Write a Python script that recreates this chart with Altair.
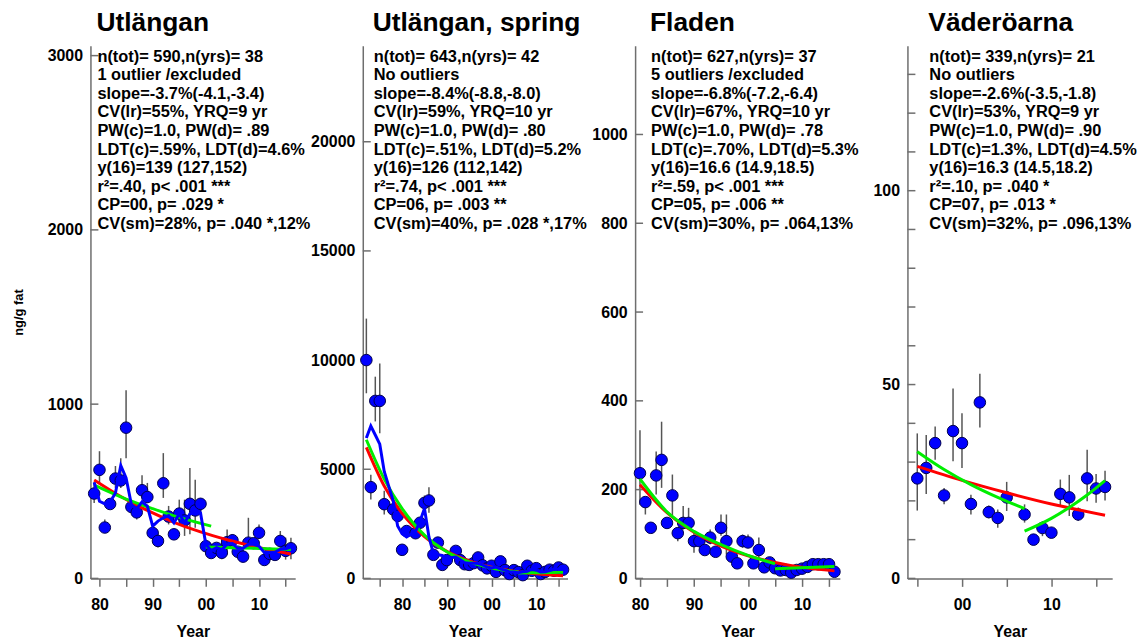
import altair as alt
import pandas as pd

FONT = "Liberation Sans"
AXIS_GREY = "#6e6e6e"

# ---- panel names and statistics text ----
titles = ["Utlängan", "Utlängan, spring", "Fladen", "Väderöarna"]

stats_utl = ["n(tot)= 590,n(yrs)= 38", "1 outlier /excluded", "slope=-3.7%(-4.1,-3.4)",
             "CV(lr)=55%, YRQ=9 yr", "PW(c)=1.0, PW(d)= .89", "LDT(c)=.59%, LDT(d)=4.6%",
             "y(16)=139 (127,152)", "r²=.40, p< .001 ***", "CP=00, p= .029 *",
             "CV(sm)=28%, p= .040 *,12%"]
stats_spr = ["n(tot)= 643,n(yrs)= 42", "No outliers", "slope=-8.4%(-8.8,-8.0)",
             "CV(lr)=59%, YRQ=10 yr", "PW(c)=1.0, PW(d)= .80", "LDT(c)=.51%, LDT(d)=5.2%",
             "y(16)=126 (112,142)", "r²=.74, p< .001 ***", "CP=06, p= .003 **",
             "CV(sm)=40%, p= .028 *,17%"]
stats_fla = ["n(tot)= 627,n(yrs)= 37", "5 outliers /excluded", "slope=-6.8%(-7.2,-6.4)",
             "CV(lr)=67%, YRQ=10 yr", "PW(c)=1.0, PW(d)= .78", "LDT(c)=.70%, LDT(d)=5.3%",
             "y(16)=16.6 (14.9,18.5)", "r²=.59, p< .001 ***", "CP=05, p= .006 **",
             "CV(sm)=30%, p= .064,13%"]
stats_vad = ["n(tot)= 339,n(yrs)= 21", "No outliers", "slope=-2.6%(-3.5,-1.8)",
             "CV(lr)=53%, YRQ=9 yr", "PW(c)=1.0, PW(d)= .90", "LDT(c)=1.3%, LDT(d)=4.5%",
             "y(16)=16.3 (14.5,18.2)", "r²=.10, p= .040 *", "CP=07, p= .013 *",
             "CV(sm)=32%, p= .096,13%"]

# ---- Utlängan (ng/g fat) ----
utl_years = list(range(1979, 2017))
utl_mean = [487, 623, 292, 427, 573, 562, 865, 410, 379, 506, 467, 261, 215, 546, 355, 253,
            372, 333, 428, 390, 428, 185, 146, 175, 147, 208, 219, 153, 125, 205, 202, 262,
            106, 141, 135, 215, 158, 173]
utl_lo = [433, 540, 262, 400, 519, 519, 690, 385, 338, 462, 433, 224, 177, 462, 310, 225,
          329, 244, 253, 291, 388, 139, 125, 150, 110, 139, 185, 125, 105, 190, 180, 234,
          90, 120, 115, 148, 108, 110]
utl_hi = [553, 730, 338, 455, 645, 690, 1080, 440, 416, 592, 548, 302, 253, 719, 416, 285,
          452, 452, 633, 566, 452, 224, 170, 200, 238, 281, 255, 180, 145, 348, 225, 310,
          120, 165, 160, 272, 234, 234]
utl_smooth = [551, 443, 428, 439, 490, 648, 576, 424, 399, 439, 415, 300, 329, 348, 361, 319,
              371, 319, 371, 376, 376, 196, 158, 177, 165, 196, 200, 173, 173, 196, 196, 185,
              148, 148, 150, 167, 170, 180]
utl_reg_years = [1979, 1984, 1989, 1994, 1999, 2004, 2009, 2016]
utl_reg = [565, 470, 390, 322, 267, 222, 184, 140]
utl_cp1_years = [1979, 1985, 1990, 1995, 2001]
utl_cp1 = [535, 455, 400, 350, 300]
utl_cp2_years = [2000, 2005, 2010, 2016]
utl_cp2 = [180, 176, 172, 166]

# ---- Utlängan, spring ----
spr_years = [1972, 1973, 1974, 1975, 1976, 1978, 1979, 1980, 1981, 1983, 1984, 1985, 1986,
             1987, 1988, 1989, 1990, 1992, 1993, 1994, 1995, 1996, 1997, 1998, 1999, 2000,
             2001, 2002, 2003, 2004, 2005, 2006, 2007, 2008, 2009, 2010, 2011, 2012, 2013,
             2014, 2015, 2016]
spr_mean = [10000, 4180, 8130, 8130, 3400, 3160, 2860, 1310, 2170, 2070, 2550, 3460, 3570,
            1080, 1640, 620, 840, 1260, 840, 650, 620, 700, 960, 600, 460, 580, 300, 780,
            380, 200, 380, 290, 150, 580, 350, 470, 200, 300, 400, 350, 500, 400]
spr_lo = [8480, 3615, 7190, 6650, 2930, 2900, 2600, 1150, 1950, 1850, 2300, 3150, 3010,
          950, 1400, 520, 720, 1100, 740, 560, 540, 600, 820, 520, 400, 500, 250, 660,
          320, 160, 320, 240, 120, 490, 290, 400, 160, 250, 340, 290, 420, 340]
spr_hi = [11900, 4750, 9240, 9845, 4010, 3500, 3100, 1450, 2400, 2300, 2800, 3800, 4180,
          1200, 1900, 740, 980, 1450, 950, 750, 720, 820, 1120, 690, 530, 670, 360, 920,
          450, 250, 450, 350, 190, 680, 420, 550, 250, 360, 470, 420, 590, 470]
spr_smooth = [6430, 6980, 6570, 6150, 4900, 3550, 2400, 2050, 1900, 2150, 2620, 3200, 1900,
              1150, 1080, 1050, 920, 980, 850, 720, 700, 700, 680, 620, 520, 480, 520, 440,
              380, 300, 290, 260, 300, 330, 420, 380, 300, 310, 360, 420, 420, 420]
spr_reg_years = [1972, 1976, 1980, 1985, 1990, 1995, 2000, 2005, 2010, 2016]
spr_reg = [6000, 4230, 2980, 1920, 1240, 800, 515, 333, 215, 126]
spr_cp1_years = [1972, 1976, 1980, 1985, 1990, 1995, 2000, 2006]
spr_cp1 = [6350, 4550, 3200, 1980, 1220, 760, 480, 290]
spr_cp2_years = [2006, 2011, 2016]
spr_cp2 = [250, 265, 280]

# ---- Fladen ----
fla_years = list(range(1980, 2017))
fla_mean = [237, 172, 114, 232, 267, 125, 187, 102, 125, 125, 84, 84, 64, 92, 60, 114, 84,
            49, 34, 84, 81, 34, 64, 25, 36, 23, 18, 19, 13, 19, 22, 26, 32, 32, 32, 32, 15]
fla_lo = [166, 144, 105, 189, 204, 115, 137, 84, 110, 114, 58, 75, 57, 77, 54, 96, 54,
          43, 30, 69, 69, 30, 47, 22, 31, 20, 15, 16, 11, 16, 19, 22, 27, 27, 27, 27, 13]
fla_hi = [334, 181, 125, 286, 353, 137, 234, 114, 163, 159, 107, 95, 72, 110, 67, 144, 144,
          56, 39, 99, 99, 39, 92, 29, 42, 27, 21, 22, 15, 22, 26, 30, 38, 38, 38, 38, 17]
fla_reg_years = [1980, 1985, 1990, 1995, 2000, 2005, 2010, 2016]
fla_reg = [211, 148, 104, 73, 51, 36, 25, 17]
fla_cp1_years = [1980, 1985, 1990, 1995, 2000, 2005]
fla_cp1 = [224, 150, 106, 76, 52, 33]
fla_cp2_years = [2005, 2016]
fla_cp2 = [22, 27]

# ---- Väderöarna ----
vad_years = [1995, 1996, 1997, 1998, 1999, 2000, 2001, 2002, 2003, 2004, 2005, 2007, 2008,
             2009, 2010, 2011, 2012, 2013, 2014, 2015, 2016]
vad_mean = [25.8, 28.5, 34.9, 21.4, 38.0, 34.9, 19.2, 45.4, 17.1, 15.6, 20.9, 16.5, 10.0,
            13.0, 11.8, 21.8, 20.9, 16.5, 25.8, 23.2, 23.6]
vad_lo = [17.5, 21.8, 30.6, 19.1, 30.2, 28.5, 16.5, 38.9, 15.5, 13.1, 17.4, 14.4, 9.0,
          10.9, 10.5, 18.6, 16.1, 14.8, 19.9, 19.5, 20.1]
vad_hi = [37.4, 37.0, 39.2, 23.3, 49.0, 42.6, 21.6, 52.8, 18.8, 17.8, 24.9, 19.1, 11.0,
          14.8, 13.2, 25.5, 26.7, 18.3, 33.2, 26.9, 27.8]
vad_reg_years = [1995, 2000, 2005, 2010, 2016]
vad_reg = [28.9, 25.3, 22.1, 19.2, 16.3]
vad_cp1_years = [1995, 1998, 2001, 2004, 2007]
vad_cp1 = [32.7, 28.1, 24.2, 20.9, 18.0]
vad_cp2_years = [2007, 2010, 2012, 2014, 2016]
vad_cp2 = [12.2, 15.5, 18.3, 21.5, 25.2]

# ---- axis extents and ticks ----
x_domains = [[1978.3, 2016.8], [1971.2, 2017.0], [1979.1, 2017.0], [1993.9, 2016.8]]
x_ticks = [list(range(1980, 2016, 5)), list(range(1975, 2016, 5)),
           list(range(1980, 2016, 5)), list(range(1995, 2016, 5))]
y_tops = [3057, 24400, 1200, 137.4]
y_labels = [[0, 1000, 2000, 3000], [0, 5000, 10000, 15000, 20000],
            [0, 200, 400, 600, 800, 1000], [0, 50, 100]]
y_ticks = [[0, 1000, 2000, 3000], [0, 5000, 10000, 15000, 20000],
           [0, 200, 400, 600, 800, 1000], list(range(0, 131, 10))]
text_dx = [7, 11, 16, 22]

panels = [
    dict(years=utl_years, mean=utl_mean, lo=utl_lo, hi=utl_hi, smooth=utl_smooth,
         reg=(utl_reg_years, utl_reg), cp=[(utl_cp1_years, utl_cp1), (utl_cp2_years, utl_cp2)],
         stats=stats_utl),
    dict(years=spr_years, mean=spr_mean, lo=spr_lo, hi=spr_hi, smooth=spr_smooth,
         reg=(spr_reg_years, spr_reg), cp=[(spr_cp1_years, spr_cp1), (spr_cp2_years, spr_cp2)],
         stats=stats_spr),
    dict(years=fla_years, mean=fla_mean, lo=fla_lo, hi=fla_hi, smooth=None,
         reg=(fla_reg_years, fla_reg), cp=[(fla_cp1_years, fla_cp1), (fla_cp2_years, fla_cp2)],
         stats=stats_fla),
    dict(years=vad_years, mean=vad_mean, lo=vad_lo, hi=vad_hi, smooth=None,
         reg=(vad_reg_years, vad_reg), cp=[(vad_cp1_years, vad_cp1), (vad_cp2_years, vad_cp2)],
         stats=stats_vad),
]

year_label = ("datum.value % 10 === 0 ? (datum.value % 100 < 10 ? '0' : '') + "
              "(datum.value % 100) : ''")


def build_panel(i, p):
    xs = alt.Scale(domain=x_domains[i], nice=False, zero=False)
    ys = alt.Scale(domain=[0, y_tops[i]], nice=False)
    x_axis = alt.Axis(values=x_ticks[i], labelExpr=year_label, title="Year",
                      tickSize=8, labelPadding=10, titlePadding=11)
    y_axis = alt.Axis(values=y_labels[i], format="d", ticks=False, labelPadding=8,
                      title="ng/g fat" if i == 0 else None, titleFontSize=13,
                      titlePadding=22)
    X = alt.X("year:Q", scale=xs, axis=x_axis)

    pts = pd.DataFrame({"year": p["years"], "mean": p["mean"], "lo": p["lo"], "hi": p["hi"]})
    err = alt.Chart(pts).mark_rule(color="#555555", strokeWidth=1.5).encode(
        x=X, y=alt.Y("lo:Q", scale=ys, axis=y_axis), y2="hi:Q")
    # inward-pointing tick marks along the value axis
    ticks = alt.Chart(pd.DataFrame({"v": y_ticks[i]})).mark_rule(
        color=AXIS_GREY, strokeWidth=1.5).encode(
        y=alt.Y("v:Q", scale=ys, axis=y_axis), x=alt.value(0), x2=alt.value(8))
    dots = alt.Chart(pts).mark_point(filled=True, shape="circle", size=135, fill="#0000ff",
                                     stroke="#000050", strokeWidth=1, opacity=1).encode(
        x=X, y=alt.Y("mean:Q", scale=ys, axis=y_axis))

    reg = pd.DataFrame({"year": p["reg"][0], "value": p["reg"][1]})
    red = alt.Chart(reg).mark_line(color="#ff0000", strokeWidth=3, interpolate="monotone").encode(
        x=X, y=alt.Y("value:Q", scale=ys, axis=y_axis))

    cp_rows = []
    for k, (yy, vv) in enumerate(p["cp"]):
        cp_rows += [{"year": a, "value": b, "seg": k} for a, b in zip(yy, vv)]
    green = alt.Chart(pd.DataFrame(cp_rows)).mark_line(
        color="#00ee00", strokeWidth=3, interpolate="monotone").encode(
        x=X, y=alt.Y("value:Q", scale=ys, axis=y_axis), detail="seg:N")

    layers = [err, ticks, dots, red, green]
    if p["smooth"] is not None:
        sm = pd.DataFrame({"year": p["years"], "value": p["smooth"]})
        layers.append(alt.Chart(sm).mark_line(color="#0000ff", strokeWidth=3).encode(
            x=X, y=alt.Y("value:Q", scale=ys, axis=y_axis)))

    txt = alt.Chart(alt.InlineData(values=[{"k": 0}])).mark_text(
        align="left", baseline="alphabetic", font=FONT, fontSize=16.5, fontWeight="bold",
        lineHeight=18.7, color="black").encode(
        x=alt.value(text_dx[i]), y=alt.value(16), text=alt.value(p["stats"]))
    layers.append(txt)

    return alt.layer(*layers).properties(
        width=206, height=536,
        title=alt.TitleParams(text=titles[i], anchor="start", frame="group", dx=text_dx[i] - 1,
                              fontSize=26.5, fontWeight="bold", font=FONT, color="black",
                              baseline="alphabetic", offset=-12),
    )


charts = [build_panel(i, p) for i, p in enumerate(panels)]

chart = alt.hconcat(*charts, spacing=68, bounds="flush").properties(
    padding={"left": 12, "top": 8, "right": 5, "bottom": 0},
    background="white",
).configure_view(stroke=None).configure_axis(
    grid=False, domainColor=AXIS_GREY, domainWidth=1.5, tickColor=AXIS_GREY, tickWidth=1.5,
    labelFont=FONT, labelFontSize=16, labelFontWeight="bold", labelColor="black",
    titleFont=FONT, titleFontSize=16, titleFontWeight="bold", titleColor="black",
)

chart.save("out.html", embed_options={"renderer": "svg", "actions": False})
